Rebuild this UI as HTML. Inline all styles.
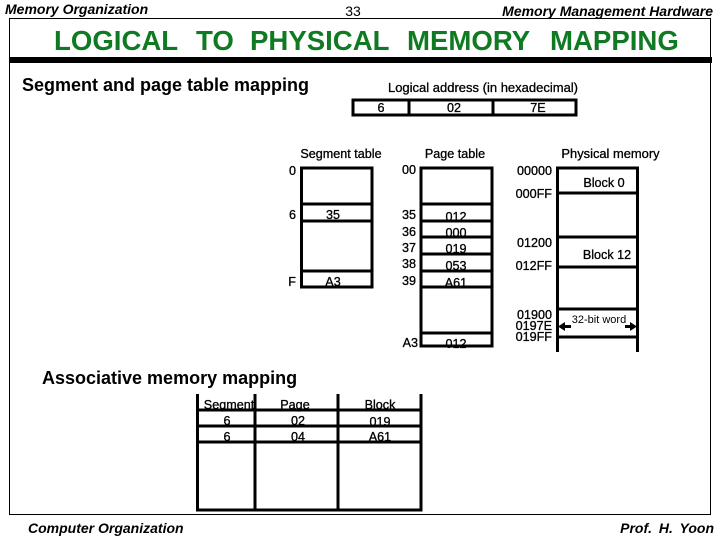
<!DOCTYPE html>
<html><head><meta charset="utf-8"><style>
html,body{margin:0;padding:0;background:#fff}
svg{display:block}
text{font-family:"Liberation Sans",sans-serif;fill:#000}
.m{font-size:12.600px;text-anchor:middle;stroke:#000;stroke-width:.3px}
.e{font-size:12.600px;text-anchor:end;stroke:#000;stroke-width:.3px}
.i{font-size:14px;font-style:italic;font-weight:bold}
.h{font-size:18px;font-weight:bold}
.t{font-size:27.600px;font-weight:bold;fill:#0f7a22}
</style></head><body>
<svg width="720" height="540" viewBox="0 0 720 540" xmlns="http://www.w3.org/2000/svg">
<rect x="9.500" y="18.500" width="701" height="496" fill="none" stroke="#000" stroke-width="1"/>
<rect x="9" y="57" width="703" height="6" fill="#000"/>
<text x="5" y="14" class="i">Memory Organization</text>
<text x="353" y="16" font-size="14" text-anchor="middle">33</text>
<text x="713" y="16" class="i" text-anchor="end">Memory Management Hardware</text>
<text x="54" y="50" class="t">LOGICAL</text>
<text x="196" y="50" class="t">TO</text>
<text x="250" y="50" class="t">PHYSICAL</text>
<text x="407" y="50" class="t">MEMORY</text>
<text x="550" y="50" class="t">MAPPING</text>
<text x="22" y="91" class="h">Segment and page table mapping</text>
<text x="483" y="92" class="m" style="font-size:13px">Logical address (in hexadecimal)</text>

<text x="381" y="112" class="m">6</text><text x="454" y="112" class="m">02</text><text x="538" y="112" class="m">7E</text>
<text x="341" y="158" class="m">Segment table</text><text x="455" y="158" class="m">Page table</text><text x="610.500" y="158" class="m" style="font-size:12.900px">Physical memory</text>
<text x="333" y="219" class="m">35</text><text x="333" y="286" class="m">A3</text>
<text x="456" y="221" class="m">012</text><text x="456" y="237" class="m">000</text><text x="456" y="253" class="m">019</text><text x="456" y="270" class="m">053</text><text x="456" y="287" class="m">A61</text><text x="456" y="348" class="m">012</text>
<text x="604" y="187" class="m">Block 0</text><text x="607" y="259" class="m">Block 12</text>
<text x="296" y="175" class="e">0</text><text x="296" y="219" class="e">6</text><text x="296" y="286" class="e">F</text>
<text x="416" y="174" class="e">00</text><text x="416" y="219" class="e">35</text><text x="416" y="236" class="e">36</text><text x="416" y="252" class="e">37</text><text x="416" y="268" class="e">38</text><text x="416" y="285" class="e">39</text><text x="418" y="347" class="e">A3</text>
<text x="552" y="175" class="e">00000</text><text x="552" y="198" class="e">000FF</text><text x="552" y="247" class="e">01200</text><text x="552" y="270" class="e">012FF</text><text x="552" y="319" class="e">01900</text><text x="552" y="330" class="e">0197E</text><text x="552" y="341" class="e">019FF</text>
<text x="599" y="323" font-size="11" text-anchor="middle">32-bit word</text>
<text x="42" y="384" class="h">Associative memory mapping</text>
<text x="229" y="409" class="m">Segment</text><text x="295" y="409" class="m">Page</text><text x="380" y="409" class="m">Block</text>
<text x="227" y="425" class="m">6</text><text x="298" y="425" class="m">02</text><text x="380" y="426" class="m">019</text>
<text x="227" y="441" class="m">6</text><text x="298" y="441" class="m">04</text><text x="380" y="441" class="m">A61</text>

<g fill="none" stroke="#000" stroke-width="3">
<rect x="353" y="100" width="223" height="15"/><path d="M409 100V115M493 100V115"/>
<path d="M301.500 168H372V287H301.500ZM301.500 204H372M301.500 221H372M301.500 271H372"/>
<path d="M421 168H492V346H421ZM421 204H492M421 221H492M421 237H492M421 254H492M421 271H492M421 287H492M421 333H492"/>
<path d="M557.500 352V168H637.500V352M557.500 193H637.500M557.500 237H637.500M557.500 267H637.500M557.500 309H637.500M557.500 337H637.500"/>
<path d="M197.500 394V510H421V394M197.500 410H421M197.500 426H421M197.500 442H421M255 394V510M338 394V510"/>
</g>
<g fill="#000" stroke="none">
<path d="M558 326.500L565 322V325H571V328H565V331Z"/>
<path d="M637 326.500L630 322V325H625V328H630V331Z"/>
</g>
<text x="28" y="533" class="i">Computer Organization</text>
<text x="714" y="533" class="i" text-anchor="end" word-spacing="3">Prof. H. Yoon</text>
</svg>
</body></html>
